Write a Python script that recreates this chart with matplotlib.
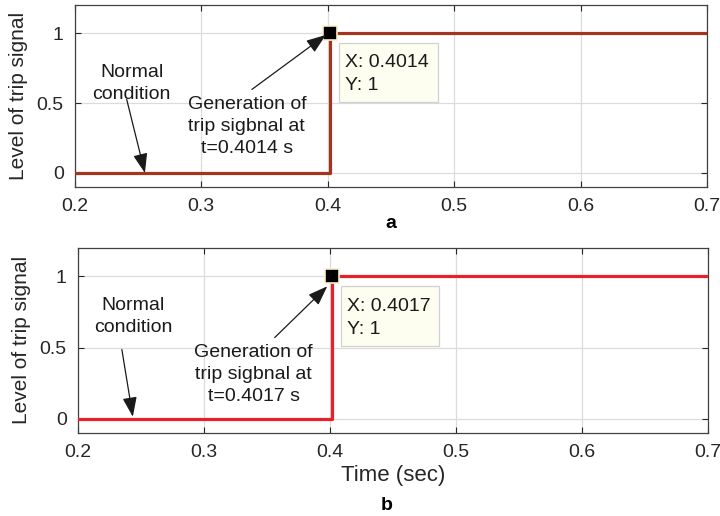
import matplotlib
matplotlib.use("Agg")
import matplotlib.pyplot as plt
from matplotlib.patches import Rectangle

plt.rcParams['font.family'] = ['Liberation Sans', 'DejaVu Sans']

# -----------------------------
# DATA
# -----------------------------
t_a = [0.2, 0.4014, 0.4014, 0.7]
sig_a = [0, 0, 1, 1]
trip_a = (0.4014, 1)

t_b = [0.2, 0.4017, 0.4017, 0.7]
sig_b = [0, 0, 1, 1]
trip_b = (0.4017, 1)

xticks = [0.2, 0.3, 0.4, 0.5, 0.6, 0.7]
yticks = [0, 0.5, 1]
xtick_labels = ["0.2", "0.3", "0.4", "0.5", "0.6", "0.7"]
ytick_labels = ["0", "0.5", "1"]

# -----------------------------
# FIGURE
# -----------------------------
fig = plt.figure(figsize=(7.2, 5.16), dpi=100)
ax1 = fig.add_axes([0.104, 0.6376, 0.878, 0.3527])
ax2 = fig.add_axes([0.108, 0.161, 0.875, 0.3585])

ARROW = dict(arrowstyle='-|>,head_length=0.6,head_width=0.22', color='#1a1a1a',
             lw=0.9, mutation_scale=20, shrinkA=0, shrinkB=0)


def style_axes(ax):
    ax.set_xlim(0.2, 0.7)
    ax.set_ylim(-0.1, 1.2)
    ax.set_xticks(xticks)
    ax.set_xticklabels(xtick_labels)
    ax.set_yticks(yticks)
    ax.set_yticklabels(ytick_labels)
    ax.grid(True, color='#dcdcdc', linewidth=0.9)
    ax.set_axisbelow(True)
    ax.tick_params(direction='in', top=True, right=True, length=4,
                   labelsize=14, colors='#262626', pad=8)
    for s in ax.spines.values():
        s.set_color('#404040')
        s.set_linewidth(0.9)
    ax.set_ylabel("Level of trip signal", fontsize=15, color='#262626', labelpad=6)


def draw_panel(ax, t, sig, trip, color, t_label, normal_xy, normal_tail,
               normal_head, gen_xy, gen_tail, gen_head):
    ax.plot(t, sig, color=color, linewidth=2.3, zorder=3)
    ax.plot(trip[0], trip[1], marker='s', markersize=10, color='black',
            markeredgecolor='#f6f0c4', markeredgewidth=1.2, zorder=5)

    # datatip box
    ax.add_patch(Rectangle((0.409, 0.51), 0.078, 0.42, facecolor='#fdfdf0',
                           edgecolor='#d0d0d0', linewidth=0.9, zorder=6))
    ax.text(0.4135, 0.79, f"X: {trip[0]}", fontsize=14, va='center',
            ha='left', color='#1a1a1a', zorder=7)
    ax.text(0.4135, 0.625, f"Y: {trip[1]}", fontsize=14, va='center',
            ha='left', color='#1a1a1a', zorder=7)

    ax.text(normal_xy[0], normal_xy[1], "Normal\ncondition", fontsize=14,
            ha='center', va='center', color='#1a1a1a', linespacing=1.35, zorder=6)
    ax.annotate("", xy=normal_head, xytext=normal_tail, arrowprops=ARROW, zorder=6)

    ax.text(gen_xy[0], gen_xy[1], f"Generation of\ntrip sigbnal at\n{t_label}",
            fontsize=14, ha='center', va='center', color='#1a1a1a',
            linespacing=1.38, zorder=6)
    ax.annotate("", xy=gen_head, xytext=gen_tail, arrowprops=ARROW, zorder=6)


style_axes(ax1)
style_axes(ax2)

draw_panel(ax1, t_a, sig_a, trip_a, '#a3341f', "t=0.4014 s",
           normal_xy=(0.245, 0.64), normal_tail=(0.241, 0.525), normal_head=(0.2554, 0.0),
           gen_xy=(0.336, 0.33), gen_tail=(0.340, 0.597), gen_head=(0.3985, 0.986))
draw_panel(ax2, t_b, sig_b, trip_b, '#e8202a', "t=0.4017 s",
           normal_xy=(0.2437, 0.72), normal_tail=(0.235, 0.486), normal_head=(0.2437, 0.014),
           gen_xy=(0.3397, 0.31), gen_tail=(0.3563, 0.570), gen_head=(0.398, 0.93))

ax2.set_xlabel("Time (sec)", fontsize=16, color='#262626', labelpad=3)

fig.text(391 / 720, 1 - 223 / 516, "a", fontsize=14, fontweight='bold',
         ha='center', va='center')
fig.text(387 / 720, 1 - 505 / 516, "b", fontsize=14, fontweight='bold',
         ha='center', va='center')

fig.savefig("out.png", dpi=100)
